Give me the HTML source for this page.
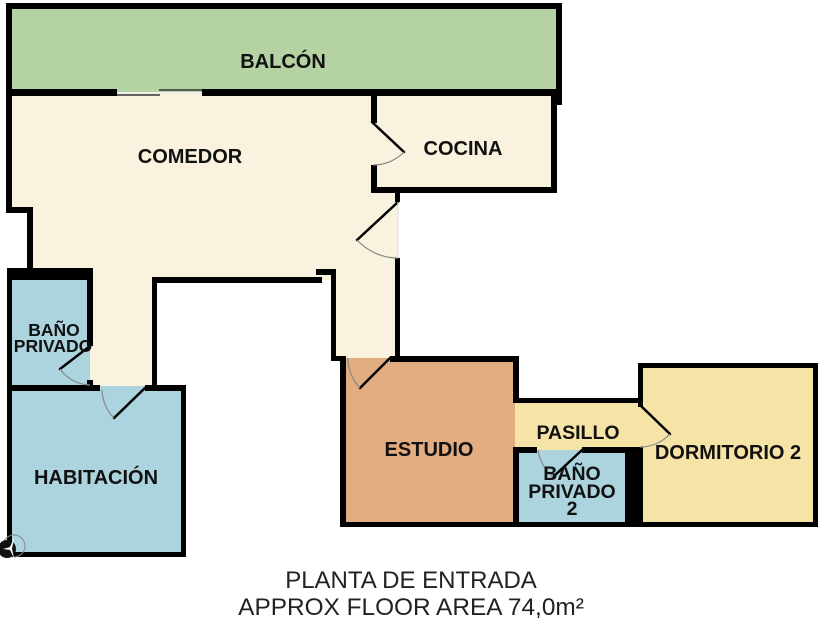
<!DOCTYPE html>
<html><head><meta charset="utf-8"><style>
html,body{margin:0;padding:0;background:#fff;}
svg{display:block;}
text{font-family:"Liberation Sans",Arial,sans-serif;font-weight:bold;fill:#111;}
</style></head><body>
<svg width="840" height="630" viewBox="0 0 840 630" xmlns="http://www.w3.org/2000/svg">
<!-- fills -->
<rect x="9" y="6" width="550" height="86" fill="#b5d2a2"/>
<polygon points="10,93 375,93 375,190 398,190 398,359 333,359 333,280 152,280 152,388 90,388 90,276 30,276 30,210 10,210" fill="#f8f2df"/>
<rect x="375" y="94" width="179" height="96" fill="#f8f2df"/>
<rect x="10" y="276" width="80" height="112" fill="#acd4de"/>
<rect x="10" y="386" width="174" height="168" fill="#acd4de"/>
<rect x="90" y="386" width="62" height="4" fill="#acd4de"/>
<rect x="343" y="358" width="172" height="166" fill="#e3ad82"/>
<rect x="515" y="402" width="127" height="48" fill="#f6e3a6"/>
<rect x="516" y="450" width="112" height="74" fill="#acd4de"/>
<rect x="640" y="366" width="176" height="158" fill="#f6e3a6"/>

<!-- walls -->
<g fill="#000">
<rect x="6" y="3" width="556" height="6"/>
<rect x="6" y="3" width="6" height="210"/>
<rect x="556" y="3" width="6" height="102"/>
<rect x="6" y="89" width="111" height="7"/>
<rect x="202" y="89" width="355" height="7"/>
<rect x="6" y="207" width="27" height="6"/>
<rect x="27" y="207" width="6" height="68"/>
<rect x="7" y="268" width="86" height="12"/>
<rect x="7" y="268" width="5" height="289"/>
<rect x="87" y="268" width="6" height="78"/>
<rect x="87" y="380" width="6" height="10"/>
<rect x="7" y="385" width="93" height="6"/>
<rect x="145" y="385" width="41" height="6"/>
<rect x="181" y="385" width="5" height="172"/>
<rect x="7" y="552" width="179" height="5"/>
<rect x="152" y="277" width="5" height="112"/>
<rect x="152" y="277" width="170" height="6"/>
<rect x="316" y="269" width="20" height="6"/>
<rect x="331" y="269" width="5" height="91"/>
<rect x="331" y="356" width="15" height="5"/>
<rect x="340" y="356" width="6" height="171"/>
<rect x="371" y="94" width="6" height="29"/>
<rect x="371" y="165" width="6" height="28"/>
<rect x="371" y="187" width="185" height="6"/>
<rect x="551" y="94" width="6" height="99"/>
<rect x="395" y="187" width="5" height="15"/>
<rect x="395" y="258" width="5" height="104"/>
<rect x="390" y="356" width="128" height="6"/>
<rect x="513" y="356" width="6" height="47"/>
<rect x="513" y="398" width="130" height="5"/>
<rect x="638" y="363" width="5" height="44"/>
<rect x="638" y="363" width="180" height="5"/>
<rect x="813" y="363" width="5" height="164"/>
<rect x="340" y="522" width="478" height="5"/>
<rect x="513" y="447" width="24" height="6"/>
<rect x="582" y="447" width="50" height="6"/>
<rect x="513" y="447" width="6" height="80"/>
<rect x="625" y="447" width="18" height="80"/>
</g>

<!-- sliding door -->
<line x1="117" y1="95" x2="160" y2="95" stroke="#333" stroke-width="1.5"/>
<line x1="159" y1="90" x2="202" y2="90" stroke="#333" stroke-width="1.5"/>
<line x1="117" y1="93" x2="202" y2="93" stroke="#ddd" stroke-width="0.8"/>

<!-- doors -->
<g stroke="#000" stroke-width="2.5" fill="none" stroke-linecap="round">
<line x1="372" y1="122" x2="404" y2="152"/>
<line x1="398" y1="202" x2="357" y2="240"/>
<line x1="390" y1="358" x2="360" y2="388"/>
<line x1="90" y1="346" x2="60" y2="369"/>
<line x1="145" y1="388" x2="114" y2="418"/>
<line x1="640" y1="405" x2="670" y2="434"/>
<line x1="582" y1="450" x2="553" y2="477"/>
</g>
<g stroke="#888" stroke-width="1.2" fill="none">
<path d="M404 152 A43 43 0 0 1 373 165"/>
<path d="M357 240 A56 56 0 0 0 398 258"/>
<path d="M348 358 A42 42 0 0 0 360 388"/>
<path d="M60 369 A38 38 0 0 0 90 385"/>
<path d="M102 390 A43 43 0 0 0 114 418"/>
<path d="M670 434 A41 41 0 0 1 640 447"/>
<path d="M538 450 A44 44 0 0 0 553 477"/>
</g>
<line x1="398" y1="202" x2="398" y2="258" stroke="#ddd" stroke-width="1"/>

<!-- compass -->
<circle cx="14" cy="546" r="11" fill="none" stroke="#888" stroke-width="1"/>
<circle cx="7" cy="549" r="9" fill="#111"/>
<polygon points="14,538 10,547 3,549 10,550 14,558 12,549" fill="#fff"/>

<!-- labels -->
<text x="283" y="68" font-size="20" text-anchor="middle">BALCÓN</text>
<text x="190" y="163" font-size="20" text-anchor="middle">COMEDOR</text>
<text x="463" y="155" font-size="20" text-anchor="middle">COCINA</text>
<text x="54" y="336" font-size="17.5" text-anchor="middle">BAÑO</text>
<text x="53" y="352" font-size="17.5" text-anchor="middle">PRIVADO</text>
<text x="96" y="484" font-size="20" text-anchor="middle">HABITACIÓN</text>
<text x="429" y="456" font-size="20" text-anchor="middle">ESTUDIO</text>
<text x="578" y="439" font-size="19.5" text-anchor="middle">PASILLO</text>
<text x="728" y="459" font-size="20" text-anchor="middle">DORMITORIO 2</text>
<text x="572" y="480" font-size="19.5" text-anchor="middle">BAÑO</text>
<text x="572" y="498" font-size="19.5" text-anchor="middle">PRIVADO</text>
<text x="572" y="515" font-size="19.5" text-anchor="middle">2</text>

<text x="411" y="588" font-size="24" text-anchor="middle" style="font-weight:normal;fill:#222">PLANTA DE ENTRADA</text>
<text x="411" y="615" font-size="24.4" text-anchor="middle" style="font-weight:normal;fill:#222">APPROX FLOOR AREA 74,0m²</text>
</svg>
</body></html>
